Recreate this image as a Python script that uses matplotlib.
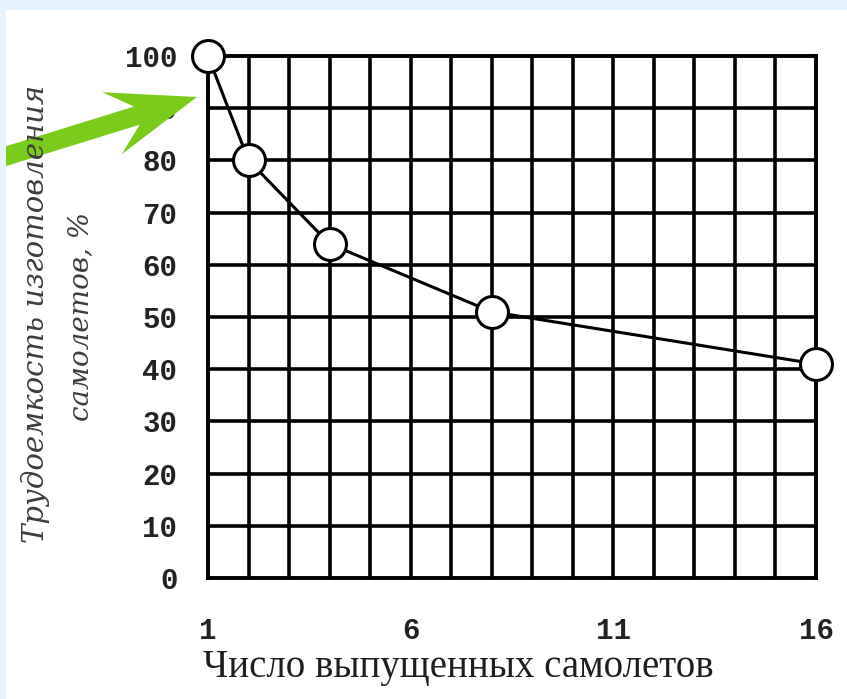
import numpy as np
import matplotlib.pyplot as plt
from matplotlib.patches import Polygon

# Данные кривой обучения
n_samolet = [1, 2, 4, 8, 16]
trudoemkost = [100, 80, 64, 51, 41]
x_ticks = [1, 6, 11, 16]
y_ticks = list(range(0, 101, 10))

fig = plt.figure(figsize=(8.47, 6.99), dpi=100)
fig.patch.set_facecolor('white')

# светло-голубая рамка сверху и слева
fig.add_artist(plt.Rectangle((0, 0.986), 1, 0.014, transform=fig.transFigure,
                             color='#e3f2fc', lw=0))
fig.add_artist(plt.Rectangle((0, 0), 0.007, 1, transform=fig.transFigure,
                             color='#e8f4fc', lw=0))

ax = fig.add_axes([208 / 847, 1 - 578 / 699, (816 - 208) / 847, (578 - 56) / 699])
ax.set_xlim(1, 16)
ax.set_ylim(0, 100)

# сетка по единицам
for xv in range(2, 16):
    ax.axvline(xv, color='black', lw=2.6, zorder=1)
for yv in range(10, 100, 10):
    ax.axhline(yv, color='black', lw=2.6, zorder=1)
for s in ax.spines.values():
    s.set_linewidth(2.8)

ax.plot(n_samolet, trudoemkost, color='black', lw=2.2, marker='o', ms=23,
        mfc='white', mec='black', mew=2.2, zorder=3, clip_on=False)

ax.set_xticks(x_ticks)
ax.set_yticks(y_ticks)
ax.tick_params(length=0)
ax.tick_params(axis='y', pad=22)
ax.tick_params(axis='x', pad=28)
for lab in ax.get_yticklabels() + ax.get_xticklabels():
    lab.set_fontfamily('Liberation Mono')
    lab.set_fontweight('bold')
    lab.set_fontsize(21)
    lab.set_color('#222222')

fig.text(458 / 847, 1 - 667 / 699, 'Число выпущенных самолетов', ha='center', va='center',
         fontfamily='Liberation Serif', fontsize=28, color='#1e1e1e')
fig.text(35 / 847, 1 - 314 / 699, 'Трудоемкость изготовления', ha='center', va='center',
         rotation=90, fontfamily='DejaVu Serif', style='italic', fontsize=21,
         color='#3c3c3c')
fig.text(81 / 847, 1 - 316 / 699, 'самолетов, %', ha='center', va='center',
         rotation=90, fontfamily='DejaVu Serif', style='italic', fontsize=20,
         color='#3c3c3c')

# зелёная стрелка (в пикселях картинки)
ax_f = fig.add_axes([0, 0, 1, 1], facecolor='none')
ax_f.set_xlim(0, 847)
ax_f.set_ylim(699, 0)
ax_f.axis('off')
tip = np.array([197.0, 97.0])
u = np.array([197.0, -61.0])
u = u / np.linalg.norm(u)
nrm = np.array([-u[1], u[0]])
shaft_w = 9.5
head_len, head_half, notch = 89, 32.5, 63
back = tip - 215 * u
pts = [tip,
       tip - head_len * u - head_half * nrm,
       tip - notch * u - shaft_w * nrm,
       back - shaft_w * nrm,
       back + shaft_w * nrm,
       tip - notch * u + shaft_w * nrm,
       tip - head_len * u + head_half * nrm]
ax_f.add_patch(Polygon(pts, closed=True, color='#7acc1a', lw=0))

fig.savefig('out.png', dpi=100)
